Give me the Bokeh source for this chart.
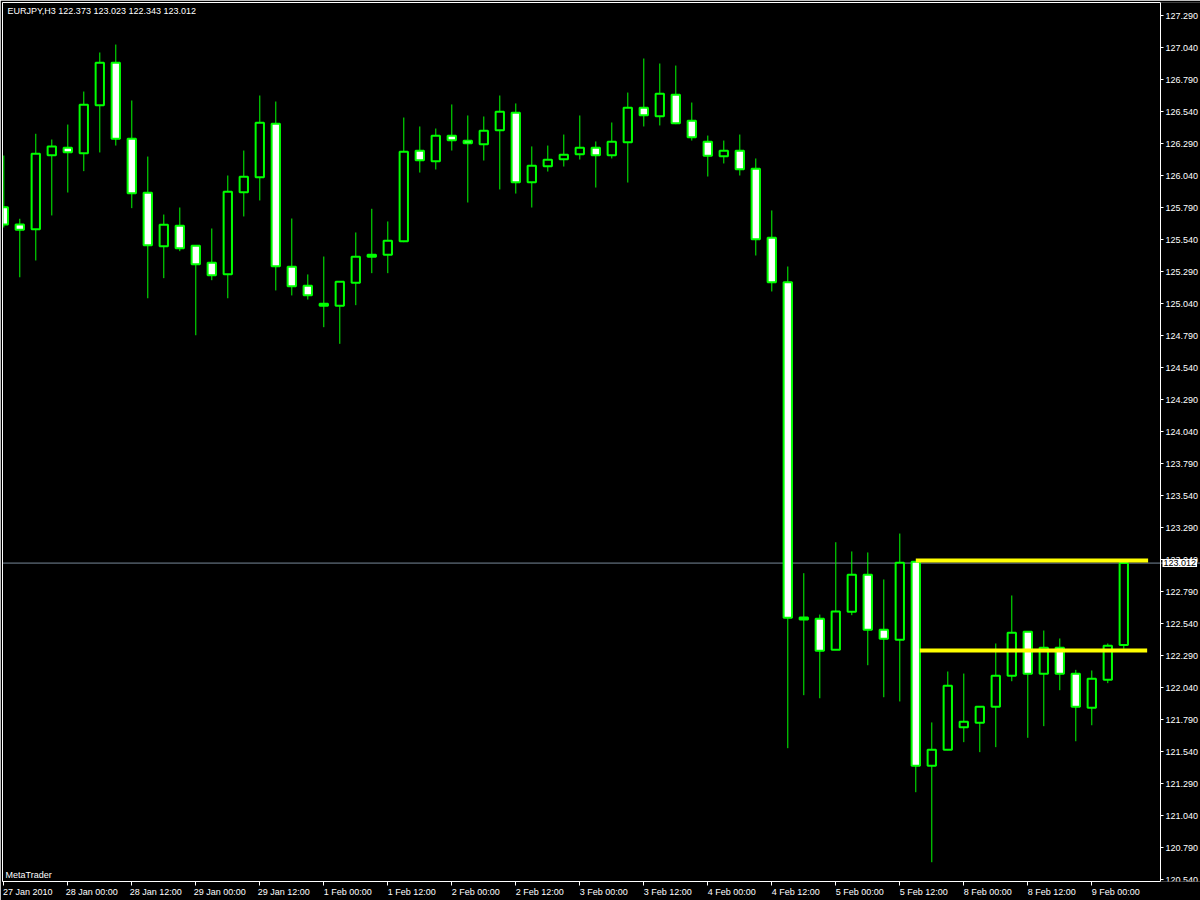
from bokeh.plotting import figure
from bokeh.models import (Range1d, FixedTicker, PrintfTickFormatter, Span, Label,
                          ColumnDataSource, LinearAxis)
from bokeh.embed import file_html
from bokeh.resources import INLINE

# ---------------- data ----------------
symbol = "EURJPY,H3"
bars = list(range(71))

opens = [125.792, 125.657, 125.620, 126.199, 126.256, 126.214, 126.589, 126.920, 126.327, 125.905,
         125.488, 125.647, 125.491, 125.358, 125.269, 125.910, 126.027, 126.444, 125.327, 125.178,
         125.038, 125.022, 125.202, 125.421, 125.421, 125.527, 126.233, 126.152, 126.350, 126.311,
         126.285, 126.394, 126.530, 125.988, 126.113, 126.167, 126.206, 126.256, 126.199, 126.300,
         126.569, 126.503, 126.670, 126.467, 126.303, 126.191, 126.233, 126.092, 125.553, 125.206,
         122.587, 122.577, 122.335, 122.631, 122.921, 122.491, 122.413, 123.022, 121.428, 121.553,
         121.730, 121.764, 121.889, 122.131, 122.475, 122.147, 122.350, 122.147, 121.881, 122.100,
         122.373]
highs = [126.196, 125.702, 126.366, 126.321, 126.438, 126.696, 127.001, 127.063, 126.626, 126.188,
         125.735, 125.790, 125.495, 125.626, 126.040, 126.235, 126.665, 126.618, 125.704, 125.267,
         125.407, 125.212, 125.595, 125.780, 125.681, 126.493, 126.423, 126.407, 126.595, 126.509,
         126.501, 126.665, 126.603, 126.267, 126.274, 126.360, 126.509, 126.306, 126.454, 126.688,
         126.954, 126.915, 126.899, 126.610, 126.352, 126.313, 126.360, 126.173, 125.767, 125.329,
         122.933, 122.610, 123.175, 123.103, 123.095, 122.884, 123.243, 123.025, 121.767, 122.165,
         122.149, 121.891, 122.384, 122.759, 122.478, 122.485, 122.423, 122.178, 122.173, 122.384,
         123.023]
lows = [125.634, 125.245, 125.376, 125.728, 125.907, 126.074, 126.220, 126.274, 125.785, 125.081,
        125.238, 125.449, 124.792, 125.222, 125.081, 125.720, 125.845, 125.142, 125.103, 125.071,
        124.855, 124.725, 125.027, 125.277, 125.277, 125.519, 126.063, 126.087, 126.235, 125.829,
        126.157, 125.931, 125.899, 125.790, 126.071, 126.110, 126.165, 125.946, 126.173, 125.985,
        126.423, 126.431, 126.441, 126.313, 126.032, 126.134, 126.040, 125.415, 125.134, 121.566,
        121.980, 121.956, 122.333, 122.605, 122.214, 121.964, 121.931, 121.222, 120.675, 121.550,
        121.613, 121.535, 121.574, 122.089, 121.647, 121.738, 122.019, 121.620, 121.745, 122.074,
        122.343]
closes = [125.657, 125.616, 126.210, 126.267, 126.222, 126.592, 126.920, 126.327, 125.902, 125.495,
          125.655, 125.472, 125.347, 125.261, 125.913, 126.030, 126.452, 125.331, 125.175, 125.105,
          125.022, 125.210, 125.405, 125.405, 125.530, 126.225, 126.160, 126.350, 126.316, 126.292,
          126.389, 126.538, 125.988, 126.116, 126.163, 126.202, 126.256, 126.199, 126.303, 126.569,
          126.511, 126.678, 126.449, 126.339, 126.194, 126.233, 126.089, 125.542, 125.206, 122.585,
          122.571, 122.327, 122.634, 122.921, 122.491, 122.421, 123.014, 121.428, 121.553, 122.053,
          121.772, 121.889, 122.131, 122.467, 122.147, 122.350, 122.147, 121.889, 122.108, 122.366,
          123.012]

time_tick_bars = [0, 4, 8, 12, 16, 20, 24, 28, 32, 36, 40, 44, 48, 52, 56, 60, 64, 68]
time_tick_labels = ["27 Jan 2010", "28 Jan 00:00", "28 Jan 12:00", "29 Jan 00:00", "29 Jan 12:00",
                    "1 Feb 00:00", "1 Feb 12:00", "2 Feb 00:00", "2 Feb 12:00", "3 Feb 00:00",
                    "3 Feb 12:00", "4 Feb 00:00", "4 Feb 12:00", "5 Feb 00:00", "5 Feb 12:00",
                    "8 Feb 00:00", "8 Feb 12:00", "9 Feb 00:00"]

price_ticks = [120.54, 120.79, 121.04, 121.29, 121.54, 121.79, 122.04, 122.29, 122.54, 122.79,
               123.04, 123.29, 123.54, 123.79, 124.04, 124.29, 124.54, 124.79, 125.04, 125.29,
               125.54, 125.79, 126.04, 126.29, 126.54, 126.79, 127.04, 127.29]

bid_price = 123.012
level_prices = [123.032, 122.329]
level_start = [57.0, 57.25]
level_end = [71.52, 71.46]

# ---------------- figure ----------------
FONT = "Liberation Sans"
GREEN = "#00FF00"
x_start, x_end = -0.081, 74.794   # frame runs under the price scale too
axis_x = 72.294                   # where the price scale sits
y_start, y_end = 120.5244, 127.3916
LABEL_SHIFT = 1.5  # time labels sit to the right of their tick (left aligned look)

p = figure(width=1200, height=900, output_backend="svg", toolbar_location=None,
           x_range=Range1d(x_start, x_end), y_range=Range1d(y_start, y_end),
           y_axis_location="right", title=None,
           min_border=0, min_border_left=2, min_border_top=2,
           min_border_right=0, min_border_bottom=19)
p.background_fill_color = "black"
p.border_fill_color = "black"
p.outline_line_color = None
p.grid.visible = False

# bid line
p.add_layout(Span(location=bid_price, dimension="width", line_color="#778899",
                  line_width=1, level="underlay"))

src = ColumnDataSource(dict(
    x=bars, open=opens, high=highs, low=lows, close=closes,
    top=[max(o, c) for o, c in zip(opens, closes)],
    bottom=[min(o, c) for o, c in zip(opens, closes)],
    fill=["white" if c < o else "black" for o, c in zip(opens, closes)],
))
p.segment(x0="x", y0="low", x1="x", y1="high", source=src, line_color=GREEN, line_width=1)
p.vbar(x="x", width=0.52, top="top", bottom="bottom", source=src,
       fill_color="fill", line_color=GREEN, line_width=2)

# yellow horizontal levels
lvl = ColumnDataSource(dict(x0=level_start, x1=level_end, y=level_prices))
p.segment(x0="x0", y0="y", x1="x1", y1="y", source=lvl, line_color="#FFFF00", line_width=4)

# right price axis (fixed at the scale position)
p.yaxis.fixed_location = axis_x
p.yaxis.ticker = FixedTicker(ticks=price_ticks)
p.yaxis.formatter = PrintfTickFormatter(format="%.3f")
p.yaxis.axis_line_color = "white"
p.yaxis.major_tick_line_color = "white"
p.yaxis.major_tick_out = 3
p.yaxis.major_tick_in = 0
p.yaxis.minor_tick_line_color = None
p.yaxis.major_label_standoff = 2
p.yaxis.axis_label_standoff = 0
p.yaxis.major_label_text_color = "white"
p.yaxis.major_label_text_font = FONT
p.yaxis.major_label_text_font_size = "9px"

# bottom time axis: real tick marks as minor ticks, labels on shifted major ticks
label_pos = [t + LABEL_SHIFT for t in time_tick_bars]
p.xaxis.ticker = FixedTicker(ticks=label_pos, minor_ticks=time_tick_bars)
p.xaxis.bounds = (x_start, axis_x)
p.xaxis.major_label_overrides = {pos: txt for pos, txt in zip(label_pos, time_tick_labels)}
p.xaxis.major_label_standoff = 1
p.xaxis.axis_label_standoff = 0
p.xaxis.major_label_text_color = "white"
p.xaxis.major_label_text_font = FONT
p.xaxis.major_label_text_font_size = "9px"
p.xaxis.axis_line_color = "white"
p.xaxis.major_tick_line_color = None
p.xaxis.major_tick_out = 4
p.xaxis.major_tick_in = 0
p.xaxis.minor_tick_line_color = "white"
p.xaxis.minor_tick_out = 4
p.xaxis.minor_tick_in = 0

# plain white frame lines on the top and left sides
top_line = LinearAxis(ticker=FixedTicker(ticks=[]), axis_line_color="white",
                      major_tick_line_color=None, minor_tick_line_color=None,
                      bounds=(x_start, axis_x), major_label_standoff=0, axis_label_standoff=0)
left_line = LinearAxis(ticker=FixedTicker(ticks=[]), axis_line_color="white",
                       major_tick_line_color=None, minor_tick_line_color=None,
                       major_label_standoff=0, axis_label_standoff=0)
p.add_layout(top_line, "above")
p.add_layout(left_line, "left")

# current price box on the scale
price_box = Label(x=axis_x, y=bid_price, x_offset=2, text=f"{bid_price:.3f}",
                  text_baseline="middle", text_align="left", text_color="black",
                  background_fill_color="white", text_font=FONT, text_font_size="9px",
                  level="overlay")
try:
    price_box.padding = 1
except Exception:
    pass
p.add_layout(price_box)

# header and footer texts
header = f"{symbol}  {opens[-1]:.3f} {highs[-1]:.3f} {lows[-1]:.3f} {closes[-1]:.3f}"
p.add_layout(Label(x=x_start, y=y_end, x_offset=5, y_offset=-3, text=header,
                   text_baseline="top", text_color="white", text_font=FONT, text_font_size="9px"))
p.add_layout(Label(x=x_start, y=y_start, x_offset=3, y_offset=2, text="MetaTrader",
                   text_baseline="bottom", text_color="white", text_font=FONT, text_font_size="9px"))

open("out.html", "w").write(file_html(p, INLINE))
